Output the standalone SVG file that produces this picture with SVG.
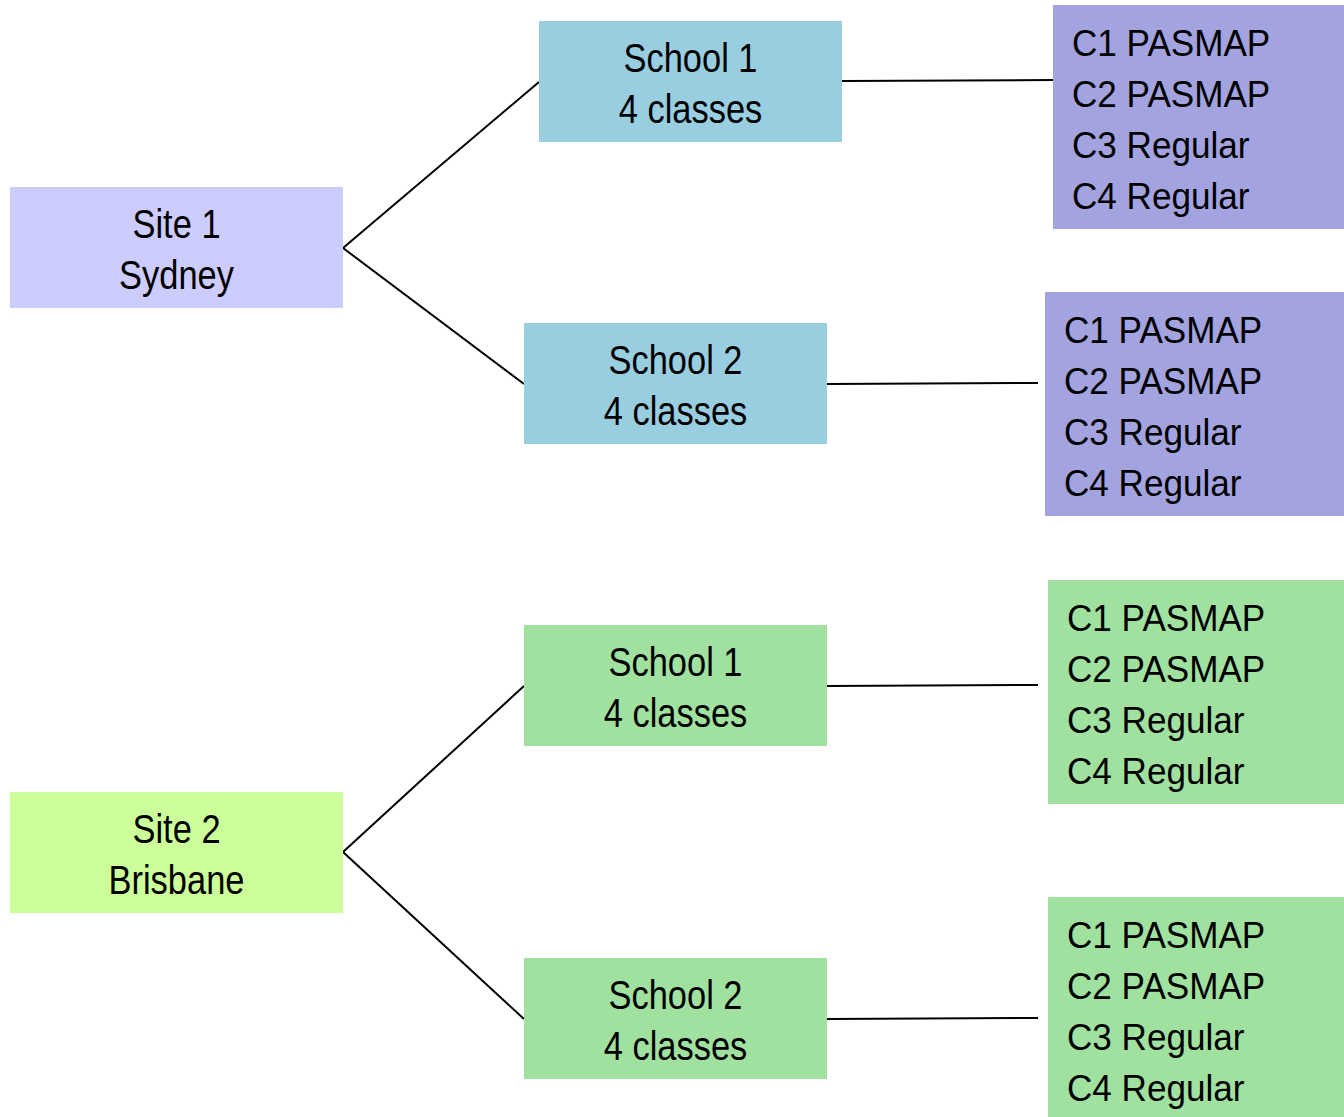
<svg xmlns="http://www.w3.org/2000/svg" width="1344" height="1117" viewBox="0 0 1344 1117">
<style>
.t{font-family:"Liberation Sans",Arial,sans-serif;font-size:41px;fill:#000;text-anchor:middle}
.c{font-family:"Liberation Sans",Arial,sans-serif;font-size:36px;fill:#000}
.site1{fill:#CCCCFF}
.site2{fill:#CCFF99}
.schoolA{fill:#99CEE0}
.schoolB{fill:#A0E1A0}
.classA{fill:#A3A3DF}
.classB{fill:#A0E1A0}
.ln{stroke:#000;stroke-width:2;fill:none}
</style>
<rect width="1344" height="1117" fill="#fff"/>
<g id="connectors">
<line class="ln" x1="343" y1="248" x2="539" y2="82"/>
<line class="ln" x1="343" y1="248" x2="524" y2="384"/>
<line class="ln" x1="842" y1="81" x2="1053" y2="80"/>
<line class="ln" x1="827" y1="384" x2="1038" y2="383"/>
<line class="ln" x1="343" y1="852" x2="524" y2="686"/>
<line class="ln" x1="343" y1="852" x2="524" y2="1019"/>
<line class="ln" x1="827" y1="686" x2="1038" y2="685"/>
<line class="ln" x1="827" y1="1019" x2="1038" y2="1018"/>
</g>
<g id="site1">
<rect class="site1" x="10" y="187" width="333" height="121"/>
<text class="t" transform="translate(176.5,238) scale(0.84,1)">Site 1</text>
<text class="t" transform="translate(176.5,289) scale(0.84,1)">Sydney</text>
</g>
<g id="site1-school1">
<rect class="schoolA" x="539" y="21" width="303" height="121"/>
<text class="t" transform="translate(690.5,72) scale(0.84,1)">School 1</text>
<text class="t" transform="translate(690.5,123) scale(0.84,1)">4 classes</text>
</g>
<g id="site1-school2">
<rect class="schoolA" x="524" y="323" width="303" height="121"/>
<text class="t" transform="translate(675.5,374) scale(0.84,1)">School 2</text>
<text class="t" transform="translate(675.5,425) scale(0.84,1)">4 classes</text>
</g>
<g id="site1-school1-classes">
<rect class="classA" x="1053" y="5" width="291" height="224"/>
<text class="c" transform="translate(1072,56) scale(0.975,1)">C1 PASMAP</text>
<text class="c" transform="translate(1072,107) scale(0.975,1)">C2 PASMAP</text>
<text class="c" transform="translate(1072,158) scale(0.975,1)">C3 Regular</text>
<text class="c" transform="translate(1072,209) scale(0.975,1)">C4 Regular</text>
</g>
<g id="site1-school2-classes">
<rect class="classA" x="1045" y="292" width="299" height="224"/>
<text class="c" transform="translate(1064,343) scale(0.975,1)">C1 PASMAP</text>
<text class="c" transform="translate(1064,394) scale(0.975,1)">C2 PASMAP</text>
<text class="c" transform="translate(1064,445) scale(0.975,1)">C3 Regular</text>
<text class="c" transform="translate(1064,496) scale(0.975,1)">C4 Regular</text>
</g>
<g id="site2">
<rect class="site2" x="10" y="792" width="333" height="121"/>
<text class="t" transform="translate(176.5,843) scale(0.84,1)">Site 2</text>
<text class="t" transform="translate(176.5,894) scale(0.84,1)">Brisbane</text>
</g>
<g id="site2-school1">
<rect class="schoolB" x="524" y="625" width="303" height="121"/>
<text class="t" transform="translate(675.5,676) scale(0.84,1)">School 1</text>
<text class="t" transform="translate(675.5,727) scale(0.84,1)">4 classes</text>
</g>
<g id="site2-school2">
<rect class="schoolB" x="524" y="958" width="303" height="121"/>
<text class="t" transform="translate(675.5,1009) scale(0.84,1)">School 2</text>
<text class="t" transform="translate(675.5,1060) scale(0.84,1)">4 classes</text>
</g>
<g id="site2-school1-classes">
<rect class="classB" x="1048" y="580" width="296" height="224"/>
<text class="c" transform="translate(1067,631) scale(0.975,1)">C1 PASMAP</text>
<text class="c" transform="translate(1067,682) scale(0.975,1)">C2 PASMAP</text>
<text class="c" transform="translate(1067,733) scale(0.975,1)">C3 Regular</text>
<text class="c" transform="translate(1067,784) scale(0.975,1)">C4 Regular</text>
</g>
<g id="site2-school2-classes">
<rect class="classB" x="1048" y="897" width="296" height="220"/>
<text class="c" transform="translate(1067,948) scale(0.975,1)">C1 PASMAP</text>
<text class="c" transform="translate(1067,999) scale(0.975,1)">C2 PASMAP</text>
<text class="c" transform="translate(1067,1050) scale(0.975,1)">C3 Regular</text>
<text class="c" transform="translate(1067,1101) scale(0.975,1)">C4 Regular</text>
</g>
</svg>
